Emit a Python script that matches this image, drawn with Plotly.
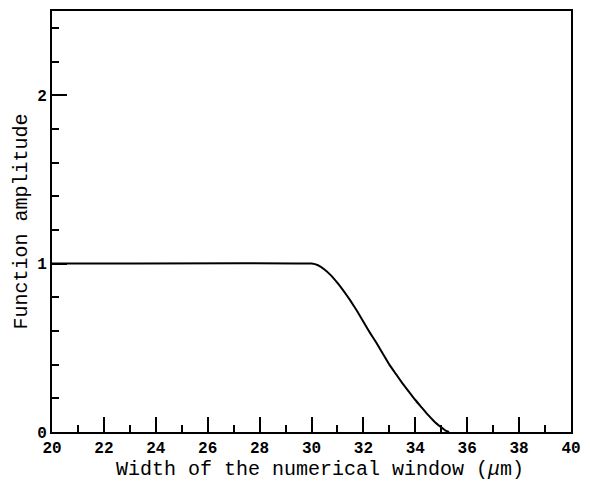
import plotly.graph_objects as go

# Data
width_um = [20.0, 30.0, 30.25, 30.5, 30.75, 31.0, 31.25, 31.5, 31.75, 32.0, 32.25, 32.5,
            32.75, 33.0, 33.25, 33.5, 33.75, 34.0, 34.25, 34.5, 34.75, 35.0, 35.15, 35.3]
amplitude = [1.0, 1.0, 0.99, 0.965, 0.93, 0.885, 0.835, 0.78, 0.72, 0.655, 0.59, 0.53,
             0.465, 0.40, 0.345, 0.29, 0.24, 0.19, 0.145, 0.10, 0.06, 0.028, 0.01, 0.0]

x_ticks = [20, 22, 24, 26, 28, 30, 32, 34, 36, 38, 40]
y_ticks = [0, 1, 2]

fig = go.Figure()
fig.add_trace(go.Scatter(
    x=width_um, y=amplitude, mode="lines",
    line=dict(color="black", width=2, shape="spline", smoothing=0.3),
    showlegend=False,
))

title_font = dict(family="Liberation Mono", size=20, color="black")
tick_font = dict(family="Liberation Mono", size=16, color="black", weight="bold")

fig.update_layout(
    width=590, height=488,
    margin=dict(l=52, r=11, t=9, b=56),
    paper_bgcolor="white", plot_bgcolor="white",
    xaxis=dict(
        range=[20, 40], tickvals=x_ticks, ticktext=[str(v) for v in x_ticks],
        ticks="inside", ticklen=15, tickwidth=1.5, tickcolor="black",
        minor=dict(dtick=1, tick0=20, ticks="inside", ticklen=7, tickwidth=1.5, tickcolor="black"),
        showline=True, linecolor="black", linewidth=2, mirror=True,
        showgrid=False, zeroline=False,
        tickfont=tick_font,
    ),
    yaxis=dict(
        range=[0, 2.5], tickvals=y_ticks, ticktext=[str(v) for v in y_ticks],
        ticks="inside", ticklen=15, tickwidth=1.5, tickcolor="black",
        minor=dict(dtick=0.2, tick0=0, ticks="inside", ticklen=7, tickwidth=1.5, tickcolor="black"),
        showline=True, linecolor="black", linewidth=2, mirror=True,
        showgrid=False, zeroline=False,
        tickfont=tick_font,
        title=dict(text="Function amplitude", font=title_font, standoff=4),
    ),
    annotations=[dict(
        text="Width of the numerical window (<i>μ</i>m)", font=title_font,
        xref="paper", yref="paper", x=0.5, y=0, xanchor="center", yanchor="top",
        xshift=8, yshift=-24, showarrow=False,
    )],
)

fig.write_html("out.html")
